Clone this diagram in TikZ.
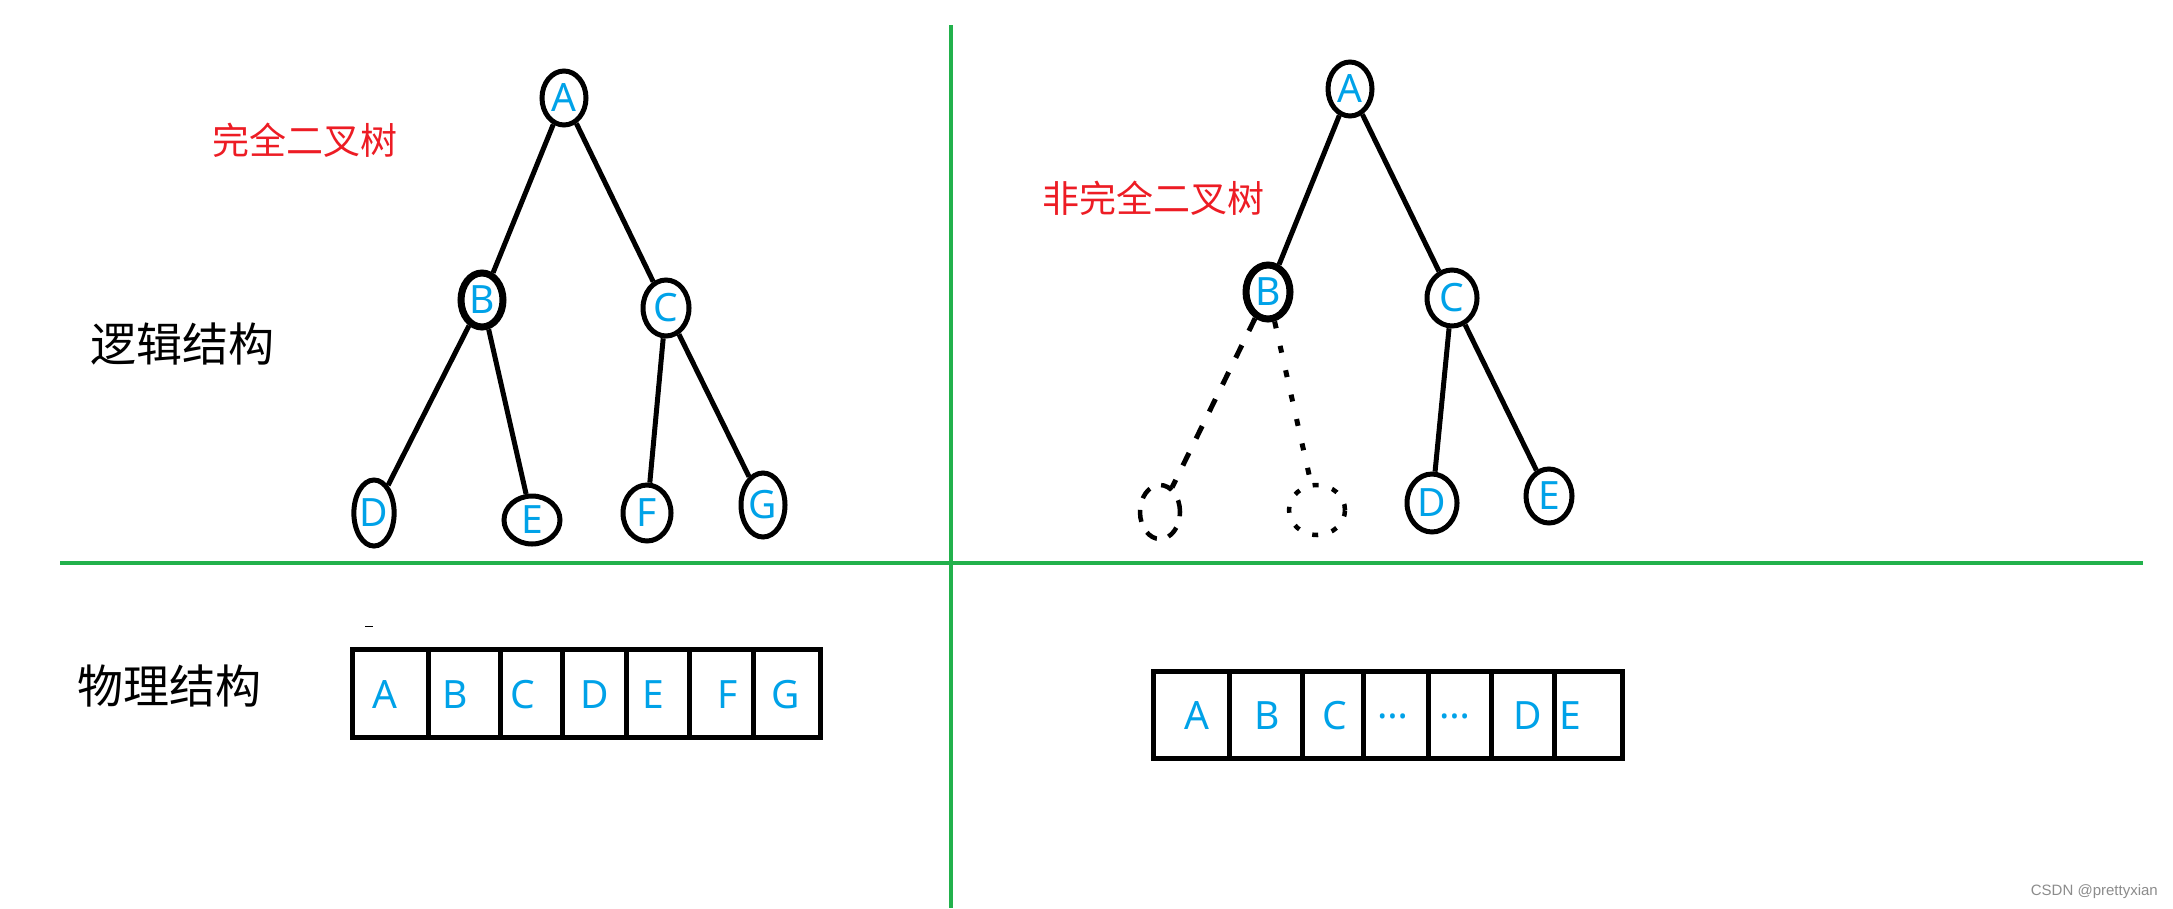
\documentclass[tikz,border=0pt]{standalone}
\usepackage{fontspec}
\usetikzlibrary{shapes.geometric}
\newfontfamily\cjkfont{Noto Sans CJK SC}
\newfontfamily\latfont{Noto Sans}
\newfontfamily\wmfont{Liberation Sans}
\definecolor{lblue}{HTML}{00A2E8}
\definecolor{pred}{HTML}{ED1C24}
\definecolor{pgreen}{HTML}{22B14C}
\begin{document}
\begin{tikzpicture}[x=1pt,y=-1pt,
  tnode/.style={ellipse,draw,line width=5pt,inner sep=0pt,text=lblue,
    font=\latfont\fontsize{39}{39}\selectfont},
  dnode/.style={ellipse,draw,line width=4.5pt,inner sep=0pt,dash pattern=on 12pt off 12pt},
  edge/.style={line width=5pt},
  dedge/.style={line width=5pt,dash pattern=on 14pt off 16pt},
  dotedge/.style={line width=5pt,dash pattern=on 7pt off 18pt},
  cell/.style={rectangle,draw,line width=5pt,inner sep=0pt},
  letter/.style={text=lblue,inner sep=0pt,font=\latfont\fontsize{39}{39}\selectfont},
  bigcjk/.style={inner sep=0pt,font=\cjkfont\fontsize{46}{46}\selectfont},
  redcjk/.style={inner sep=0pt,text=pred,font=\cjkfont\fontsize{37}{37}\selectfont},
  divider/.style={draw=pgreen,line width=4pt}]
\useasboundingbox (0,0) rectangle (2173,908);
\fill[white] (0,0) rectangle (2173,908);

% green dividers
\draw[divider] (951,25) -- (951,908);
\draw[divider] (60,563) -- (2143,563);

% labels
\node[bigcjk] (logic) at (182,344) {逻辑结构};
\node[bigcjk] (phys) at (169,686) {物理结构};
\node[redcjk] (full) at (305,140) {完全二叉树};
\node[redcjk] (notfull) at (1153,198) {非完全二叉树};

% left tree
\node[tnode,minimum width=44pt,minimum height=54pt] (lA) at (564,98) {A};
\node[tnode,line width=7pt,minimum width=42pt,minimum height=54pt] (lB) at (482,300) {B};
\node[tnode,minimum width=46pt,minimum height=56pt] (lC) at (666,308) {C};
\node[tnode,minimum width=40pt,minimum height=66pt] (lD) at (374,513) {D};
\node[tnode,minimum width=56pt,minimum height=48pt] (lE) at (532,520) {E};
\node[tnode,minimum width=48pt,minimum height=56pt] (lF) at (647,513) {F};
\node[tnode,minimum width=44pt,minimum height=64pt] (lG) at (763,505) {G};
\draw[edge] (lA) -- (lB);
\draw[edge] (lA) -- (lC);
\draw[edge] (lB) -- (lD);
\draw[edge] (lB) -- (lE);
\draw[edge] (lC) -- (lF);
\draw[edge] (lC) -- (lG);

% right tree
\node[tnode,minimum width=44pt,minimum height=54pt] (rA) at (1350,89) {A};
\node[tnode,line width=7pt,minimum width=44pt,minimum height=54pt] (rB) at (1268,292) {B};
\node[tnode,minimum width=50pt,minimum height=56pt] (rC) at (1452,298) {C};
\node[dnode,minimum width=40pt,minimum height=54pt] (rX) at (1160,512) {};
\node[dnode,dash pattern=on 6pt off 14pt,minimum width=56pt,minimum height=50pt] (rY) at (1317,510) {};
\node[tnode,minimum width=50pt,minimum height=58pt] (rD) at (1432,503) {D};
\node[tnode,minimum width=46pt,minimum height=54pt] (rE) at (1549,496) {E};
\draw[edge] (rA) -- (rB);
\draw[edge] (rA) -- (rC);
\draw[dedge] (rB) -- (rX);
\draw[dotedge] (rB) -- (rY);
\draw[edge] (rC) -- (rD);
\draw[edge] (rC) -- (rE);

% left array
\draw[line width=1pt] (365,626) -- (373,626);
\node[cell,minimum width=76pt,minimum height=88pt] (a1) at (390,693) {};
\node[cell,minimum width=72pt,minimum height=88pt] (a2) at (464,693) {};
\node[cell,minimum width=62pt,minimum height=88pt] (a3) at (531,693) {};
\node[cell,minimum width=64pt,minimum height=88pt] (a4) at (594,693) {};
\node[cell,minimum width=63pt,minimum height=88pt] (a5) at (657.5,693) {};
\node[cell,minimum width=64pt,minimum height=88pt] (a6) at (721,693) {};
\node[cell,minimum width=67pt,minimum height=88pt] (a7) at (786.5,693) {};
\node[letter] (ta1) at (385,695) {A};
\node[letter] (ta2) at (455,695) {B};
\node[letter] (ta3) at (523,695) {C};
\node[letter] (ta4) at (595,695) {D};
\node[letter] (ta5) at (653,695) {E};
\node[letter] (ta6) at (728,695) {F};
\node[letter] (ta7) at (786,695) {G};

% right array
\node[cell,minimum width=76pt,minimum height=87pt] (b1) at (1191,714.5) {};
\node[cell,minimum width=73pt,minimum height=87pt] (b2) at (1265.5,714.5) {};
\node[cell,minimum width=61pt,minimum height=87pt] (b3) at (1332.5,714.5) {};
\node[cell,minimum width=65pt,minimum height=87pt] (b4) at (1395.5,714.5) {};
\node[cell,minimum width=63pt,minimum height=87pt] (b5) at (1459.5,714.5) {};
\node[cell,minimum width=63pt,minimum height=87pt] (b6) at (1522.5,714.5) {};
\node[cell,minimum width=68pt,minimum height=87pt] (b7) at (1588,714.5) {};
\node[letter] (tb1) at (1197,716) {A};
\node[letter] (tb2) at (1267,716) {B};
\node[letter] (tb3) at (1335,716) {C};
\node[letter] (tb4) at (1393,716) {…};
\node[letter] (tb5) at (1455,716) {…};
\node[letter] (tb6) at (1528,716) {D};
\node[letter] (tb7) at (1570,716) {E};

% watermark
\node[anchor=east,inner sep=0pt,text=black!45,font=\wmfont\fontsize{15}{15}\selectfont] (wm) at (2158,892) {CSDN @prettyxian};
\end{tikzpicture}
\end{document}
